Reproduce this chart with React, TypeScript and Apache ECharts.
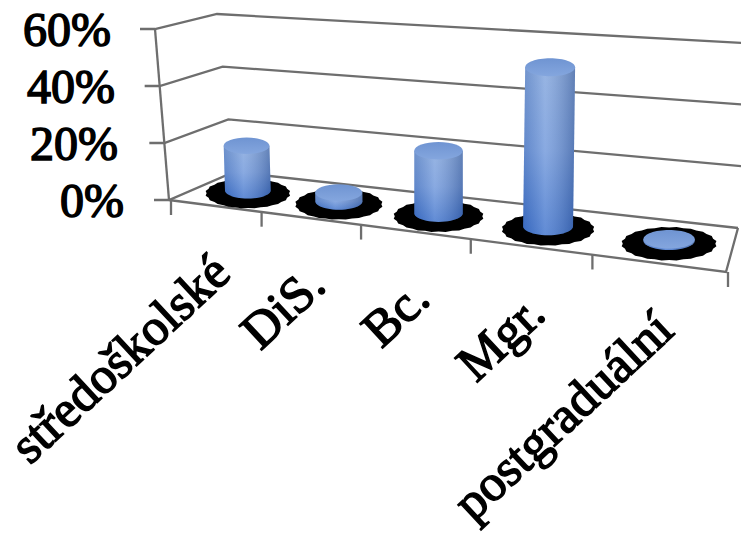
import React, { useEffect, useRef } from "react";
import * as echarts from "echarts";

const categories = ["středoškolské", "DiS.", "Bc.", "Mgr.", "postgraduální"];
const percentValues = [16, 3, 21, 52, 0.5];
const yTicks = [0, 20, 40, 60];

type Pt = number[];
const GRID = { left: 169, top: 29, width: 557, height: 171 };
const FONT = "'Liberation Serif', serif";
const LINE = "#6e6e6e";

function quad(p0: Pt, p1: Pt, p2: Pt, p3: Pt) {
  const dx1 = p1[0] - p2[0], dy1 = p1[1] - p2[1];
  const dx2 = p3[0] - p2[0], dy2 = p3[1] - p2[1];
  const sx = p0[0] - p1[0] + p2[0] - p3[0], sy = p0[1] - p1[1] + p2[1] - p3[1];
  const den = dx1 * dy2 - dx2 * dy1;
  const g = (sx * dy2 - dx2 * sy) / den, h = (dx1 * sy - sx * dy1) / den;
  const a = p1[0] - p0[0] + g * p1[0], b = p3[0] - p0[0] + h * p3[0];
  const c = p1[1] - p0[1] + g * p1[1], d = p3[1] - p0[1] + h * p3[1];
  return (u: number, v: number): Pt => {
    const w = 1 + g * u + h * v;
    return [(p0[0] + a * u + b * v) / w, (p0[1] + c * u + d * v) / w];
  };
}
const floor = quad([169, 200], [726, 272], [738, 228], [234, 172]);
const ceil = quad([155, 29], [745, 80], [762, 44], [217, 14]);
// u: along the categories, d: depth, z: fraction of the value axis
function project(u: number, d: number, z: number): Pt {
  const f = floor(u, d), t = ceil(u, d);
  return [f[0] + (t[0] - f[0]) * z, f[1] + (t[1] - f[1]) * z];
}
function toUZ(pt: Pt): Pt {
  return [(pt[0] - GRID.left) / GRID.width, (GRID.top + GRID.height - pt[1]) / GRID.height];
}
const lineStyle = { stroke: LINE, lineWidth: 2.3, fill: "none" };

function renderWall(_: any, api: any) {
  const z = toUZ(api.coord([0, api.value(0)]))[1];
  const a = project(0, 0, z), b = project(0, 1, z), c = project(1, 1, z);
  return {
    type: "group",
    children: [
      { type: "polyline", shape: { points: [[a[0] - 15, a[1]], a, b, c] }, style: lineStyle },
    ],
  };
}
function renderFrame() {
  const children: any[] = [];
  const base = [project(0, 0, 0), project(1, 0, 0), project(1, 1, 0)];
  children.push({ type: "polyline", shape: { points: base }, style: lineStyle });
  children.push({
    type: "polyline",
    shape: { points: [project(0, 0, 0), project(0, 0, 1)] },
    style: lineStyle,
  });
  for (let k = 0; k <= categories.length; k++) {
    const p = project(k / categories.length, 0, 0);
    children.push({ type: "line", shape: { x1: p[0] + 2, y1: p[1], x2: p[0] + 2, y2: p[1] + 15 }, style: lineStyle });
  }
  return { type: "group", children };
}
function renderBar(_: any, api: any) {
  const [u, z] = toUZ(api.coord([api.value(0), api.value(1)]));
  const b0 = project(u, 0.5, 0);
  const b = [b0[0] + 2, b0[1]];
  const t = [b[0] + (u - 0.5) * 12 * z, project(u, 0.5, z)[1]];
  const rx = 22.5 + u * 3.5;
  const ry = rx * 0.36;
  const shadow: Pt[] = [];
  const n = 40;
  const srx = rx * 1.87, sry = rx * 0.66;
  for (let k = 0; k < n; k++) {
    const a = (k / n) * Math.PI * 2, m = k % 2 ? 1 : 0.965;
    shadow.push([b[0] + Math.cos(a) * srx * m, b[1] + 3 + Math.sin(a) * sry * m]);
  }
  const body: Pt[] = [[t[0] - rx, t[1]]];
  for (let k = 0; k <= 24; k++) {
    const a = Math.PI - (k / 24) * Math.PI;
    body.push([b[0] + Math.cos(a) * rx, b[1] + Math.sin(a) * ry]);
  }
  body.push([t[0] + rx, t[1]]);
  const vertical = new echarts.graphic.LinearGradient(0, 0, 0, 1, [
    { offset: 0, color: "#7fa3dc" },
    { offset: 0.5, color: "#6c95da" },
    { offset: 1, color: "#3a6fcb" },
  ]);
  const across = new echarts.graphic.LinearGradient(0, 0, 1, 0, [
    { offset: 0, color: "rgba(40,70,130,0.18)" },
    { offset: 0.42, color: "rgba(255,255,255,0.2)" },
    { offset: 1, color: "rgba(35,55,100,0.32)" },
  ]);
  const top = new echarts.graphic.LinearGradient(0, 0, 0, 1, [
    { offset: 0, color: "#6f94d2" },
    { offset: 1, color: "#84a6de" },
  ]);
  return {
    type: "group",
    children: [
      { type: "polygon", shape: { points: shadow }, style: { fill: "#000" } },
      { type: "polygon", shape: { points: body }, style: { fill: vertical } },
      { type: "polygon", shape: { points: body }, style: { fill: across } },
      { type: "ellipse", shape: { cx: t[0], cy: t[1], rx, ry }, style: { fill: top } },
    ],
  };
}
function renderLabel(_: any, api: any) {
  const i = api.value(0);
  const u = toUZ(api.coord([i, 0]))[0];
  const p = project(u, 0, 0);
  return {
    type: "text",
    x: p[0] + 8,
    y: p[1] + 58,
    rotation: (43 * Math.PI) / 180,
    style: {
      text: categories[i],
      fill: "#000",
      stroke: "#000",
      lineWidth: 1.5,
      fontFamily: FONT,
      fontSize: 51,
      align: "right",
      verticalAlign: "middle",
    },
  };
}

export default function App() {
  const ref = useRef<HTMLDivElement>(null);
  useEffect(() => {
    const chart = echarts.init(ref.current!, null, { renderer: "svg" });
    const labelRich = (extra: number) => ({
      fontFamily: FONT,
      fontSize: 48,
      color: "#000",
      textBorderColor: "#000",
      textBorderWidth: 1.5,
      padding: [0, extra, 0, 0],
    });
    chart.setOption({
      animation: false,
      backgroundColor: "#fff",
      grid: { ...GRID },
      xAxis: { type: "category", data: categories, show: false },
      yAxis: {
        type: "value",
        min: 0,
        max: 60,
        interval: 20,
        axisLine: { show: false },
        axisTick: { show: false },
        splitLine: { show: false },
        axisLabel: {
          margin: 45,
          formatter: (v: number) => `{r${v}|${v}%}`,
          rich: { r60: labelRich(13), r40: labelRich(9), r20: labelRich(6), r0: labelRich(0) },
        },
      },
      series: [
        { type: "custom", z: 1, silent: true, data: yTicks.map((v) => [v]), encode: { y: 0 }, renderItem: renderWall },
        { type: "custom", z: 1, silent: true, data: [[0]], renderItem: renderFrame },
        { type: "custom", z: 2, silent: true, data: percentValues.map((v, i) => [i, v]), encode: { x: 0, y: 1 }, renderItem: renderBar },
        { type: "custom", z: 3, silent: true, data: categories.map((_, i) => [i]), encode: { x: 0 }, renderItem: renderLabel },
      ],
    });
    return () => chart.dispose();
  }, []);
  return <div ref={ref} style={{ position: "absolute", left: 0, top: 0, width: 741, height: 537 }} />;
}
